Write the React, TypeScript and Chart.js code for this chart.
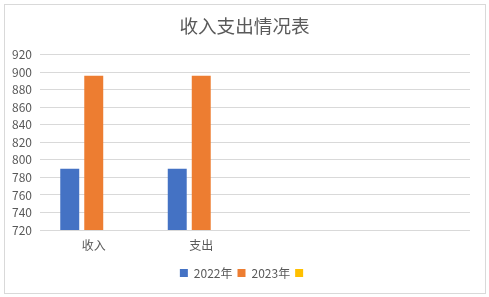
import React, { useEffect, useRef } from "react";
import { Chart, registerables } from "chart.js";

Chart.register(...registerables);

const titleText = "收入支出情况表";
const categories = ["收入", "支出", "", ""];
const seriesNames = ["2022年", "2023年", ""];
const values2022 = [790, 790, null, null];
const values2023 = [896, 896, null, null];
const values3 = [null, null, null, null];
const seriesColors = ["#4472C4", "#ED7D31", "#FFC000"];
const yMin = 720;
const yMax = 920;
const yStep = 20;

const FONT = "'Noto Sans CJK SC', 'Noto Sans', sans-serif";
const TEXT = "#595959";
const GRID = "#d9d9d9";

export default function App() {
  const ref = useRef<HTMLCanvasElement | null>(null);

  useEffect(() => {
    if (!ref.current) return;
    const allValues = [values2022, values2023, values3];
    const chart = new Chart(ref.current, {
      type: "bar",
      data: {
        labels: categories,
        datasets: seriesNames.map((name, i) => ({
          label: name,
          data: allValues[i],
          backgroundColor: seriesColors[i],
          borderWidth: 0,
          categoryPercentage: 0.67,
          barPercentage: 0.79,
        })),
      },
      options: {
        animation: false,
        responsive: false,
        maintainAspectRatio: false,
        layout: { padding: { left: 0, right: 0, top: 0, bottom: 8 } },
        plugins: {
          title: {
            display: true,
            text: titleText,
            color: TEXT,
            font: { family: FONT, size: 18.6, weight: "normal" },
            padding: { top: 15, bottom: 17.4 },
          },
          legend: {
            display: true,
            position: "bottom",
            labels: {
              color: TEXT,
              font: { family: FONT, size: 12 },
              boxWidth: 8,
              boxHeight: 8,
              padding: 5,
            },
          },
          tooltip: { enabled: false },
        },
        scales: {
          x: {
            grid: { display: false, drawTicks: false },
            border: { display: false },
            ticks: {
              color: TEXT,
              font: { family: FONT, size: 12 },
              padding: 8,
              maxRotation: 0,
            },
            afterFit: (s: any) => {
              s.height = 32;
            },
          },
          y: {
            min: yMin,
            max: yMax,
            grid: { color: GRID, lineWidth: 1, drawTicks: false },
            border: { display: false },
            ticks: {
              stepSize: yStep,
              color: TEXT,
              font: { family: FONT, size: 12 },
              padding: 8,
            },
            afterFit: (s: any) => {
              s.width = 40;
            },
          },
          yRight: {
            position: "right",
            display: true,
            grid: { display: false, drawTicks: false },
            border: { display: false },
            ticks: { display: false },
            afterFit: (s: any) => {
              s.width = 19;
            },
          },
        },
      } as any,
    });
    return () => chart.destroy();
  }, []);

  return (
    <div
      style={{
        position: "fixed",
        left: 0,
        top: 0,
        width: 489,
        height: 297,
        background: "#fff",
      }}
    >
      <div
        style={{
          position: "absolute",
          left: 4,
          top: 4,
          width: 480,
          height: 288,
          border: "1px solid #d9d9d9",
        }}
      />
      <canvas
        ref={ref}
        width={489}
        height={297}
        style={{ position: "absolute", left: 0, top: 0, width: 489, height: 297 }}
      />
    </div>
  );
}
